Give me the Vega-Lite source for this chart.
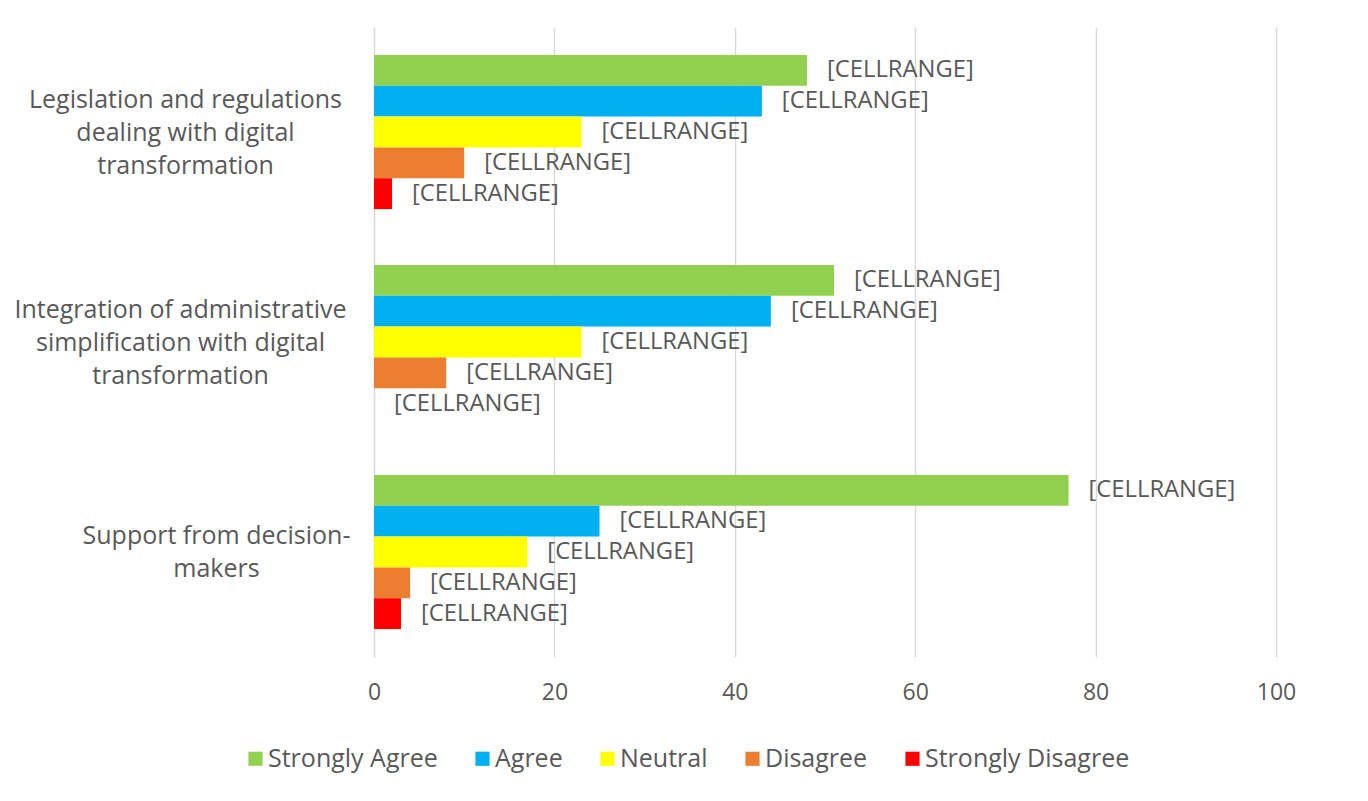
{
  "$schema": "https://vega.github.io/schema/vega-lite/v6.json",
  "width": 902,
  "height": 630,
  "autosize": {"type": "none"},
  "padding": {"left": 374, "top": 27, "right": 92, "bottom": 144},
  "background": "white",
  "config": {
    "font": "Open Sans",
    "view": {"stroke": null}
  },
  "data": {
    "values": [
      {"factor": "Legislation and regulations dealing with digital transformation", "response": "Strongly Agree", "percent": 48, "label": "[CELLRANGE]"},
      {"factor": "Legislation and regulations dealing with digital transformation", "response": "Agree", "percent": 43, "label": "[CELLRANGE]"},
      {"factor": "Legislation and regulations dealing with digital transformation", "response": "Neutral", "percent": 23, "label": "[CELLRANGE]"},
      {"factor": "Legislation and regulations dealing with digital transformation", "response": "Disagree", "percent": 10, "label": "[CELLRANGE]"},
      {"factor": "Legislation and regulations dealing with digital transformation", "response": "Strongly Disagree", "percent": 2, "label": "[CELLRANGE]"},
      {"factor": "Integration of administrative simplification with digital transformation", "response": "Strongly Agree", "percent": 51, "label": "[CELLRANGE]"},
      {"factor": "Integration of administrative simplification with digital transformation", "response": "Agree", "percent": 44, "label": "[CELLRANGE]"},
      {"factor": "Integration of administrative simplification with digital transformation", "response": "Neutral", "percent": 23, "label": "[CELLRANGE]"},
      {"factor": "Integration of administrative simplification with digital transformation", "response": "Disagree", "percent": 8, "label": "[CELLRANGE]"},
      {"factor": "Integration of administrative simplification with digital transformation", "response": "Strongly Disagree", "percent": 0, "label": "[CELLRANGE]"},
      {"factor": "Support from decision-makers", "response": "Strongly Agree", "percent": 77, "label": "[CELLRANGE]"},
      {"factor": "Support from decision-makers", "response": "Agree", "percent": 25, "label": "[CELLRANGE]"},
      {"factor": "Support from decision-makers", "response": "Neutral", "percent": 17, "label": "[CELLRANGE]"},
      {"factor": "Support from decision-makers", "response": "Disagree", "percent": 4, "label": "[CELLRANGE]"},
      {"factor": "Support from decision-makers", "response": "Strongly Disagree", "percent": 3, "label": "[CELLRANGE]"}
    ]
  },
  "encoding": {
    "y": {
      "field": "factor",
      "type": "nominal",
      "sort": null,
      "scale": {"paddingInner": 0.266, "paddingOuter": 0.133},
      "axis": {
        "title": null,
        "domain": false,
        "ticks": false,
        "labelAlign": "center",
        "labelBaseline": "middle",
        "labelPadding": {
          "condition": [
            {"test": "datum.value == 'Support from decision-makers'", "value": 158},
            {"test": "datum.value == 'Integration of administrative simplification with digital transformation'", "value": 194}
          ],
          "value": 189
        },
        "labelOffset": {
          "condition": {"test": "datum.value == 'Support from decision-makers'", "value": -16},
          "value": -32
        },
        "labelFontSize": 25,
        "labelLineHeight": 33,
        "labelColor": "#595959",
        "labelLimit": 400,
        "labelExpr": "datum.value == 'Legislation and regulations dealing with digital transformation' ? ['Legislation and regulations', 'dealing with digital', 'transformation'] : datum.value == 'Integration of administrative simplification with digital transformation' ? ['Integration of administrative', 'simplification with digital', 'transformation'] : ['Support from decision-', 'makers']"
      }
    },
    "yOffset": {
      "field": "response",
      "type": "nominal",
      "sort": ["Strongly Agree", "Agree", "Neutral", "Disagree", "Strongly Disagree"],
      "scale": {"paddingInner": 0, "paddingOuter": 0}
    },
    "x": {
      "field": "percent",
      "type": "quantitative",
      "scale": {"domain": [0, 100], "nice": false},
      "axis": {
        "title": null,
        "values": [0, 20, 40, 60, 80, 100],
        "domain": false,
        "ticks": false,
        "grid": true,
        "gridColor": "#d9d9d9",
        "gridWidth": 1.5,
        "labelFlush": false,
        "labelFontSize": 23,
        "labelColor": "#595959",
        "labelPadding": 24
      }
    }
  },
  "layer": [
    {
      "mark": {"type": "bar"},
      "encoding": {
        "color": {
          "field": "response",
          "type": "nominal",
          "sort": ["Strongly Agree", "Agree", "Neutral", "Disagree", "Strongly Disagree"],
          "scale": {
            "domain": ["Strongly Agree", "Agree", "Neutral", "Disagree", "Strongly Disagree"],
            "range": ["#92d050", "#00b0f0", "#ffff00", "#ed7d31", "#ff0000"]
          },
          "legend": {
            "title": null,
            "orient": "none",
            "direction": "horizontal",
            "legendX": -131,
            "legendY": 719,
            "symbolType": "square",
            "symbolSize": 200,
            "symbolStrokeWidth": 0,
            "symbolOpacity": 1,
            "labelFontSize": 25,
            "labelColor": "#595959",
            "labelOffset": 0,
            "columnPadding": 32,
            "labelLimit": 400
          }
        }
      }
    },
    {
      "mark": {"type": "text", "align": "left", "baseline": "middle", "dx": 20, "fontSize": 23.8, "color": "#595959"},
      "encoding": {
        "text": {"field": "label"}
      }
    }
  ]
}
